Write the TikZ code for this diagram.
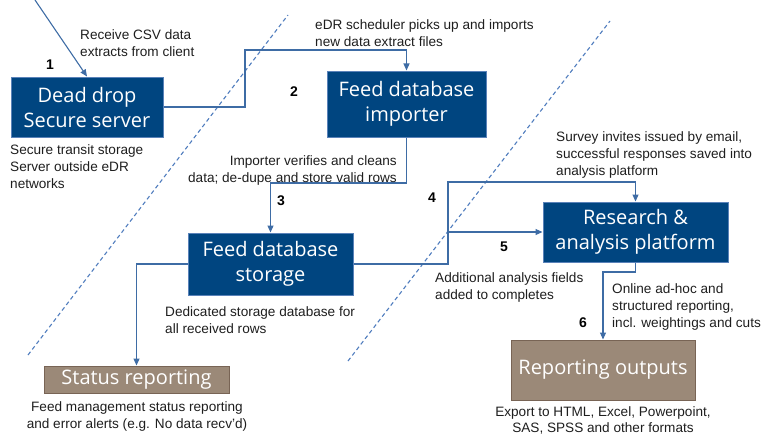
\documentclass[tikz,border=0pt]{standalone}
\usepackage{fontspec}
\setmainfont{Liberation Sans}
\newfontfamily\boxfont{Open Sans}
\usetikzlibrary{arrows.meta}
\definecolor{boxblue}{RGB}{0,69,128}
\definecolor{boxedge}{RGB}{90,130,185}
\definecolor{linkblue}{RGB}{62,108,165}
\definecolor{dashblue}{RGB}{80,125,190}
\definecolor{boxbrown}{RGB}{155,137,120}
\definecolor{brownedge}{RGB}{120,100,85}
\definecolor{txt}{RGB}{30,30,30}
\tikzset{
  bluebox/.style={draw=boxedge, line width=1pt, fill=boxblue, text=white, font=\boxfont\fontsize{20}{25}\selectfont, align=center, inner sep=0pt},
  brownbox/.style={draw=brownedge, line width=1pt, fill=boxbrown, text=white, font=\boxfont\fontsize{20}{25}\selectfont, align=center, inner sep=0pt},
  conn/.style={draw=linkblue, line width=1.1pt, -{Triangle[length=7pt,width=6pt]}},
  sep/.style={draw=dashblue, line width=1.1pt, dash pattern=on 4pt off 3pt},
  lbl/.style={text=txt, font=\fontsize{13.6}{17}\selectfont, inner sep=0pt},
  num/.style={text=black, font=\bfseries\fontsize{14}{16}\selectfont, inner sep=0pt}
}
\begin{document}
\begin{tikzpicture}[x=1pt,y=-1pt]
\useasboundingbox (0,0) rectangle (765,436);
% separators
\coordinate (a1) at (28,355); \coordinate (a2) at (288,15);
\coordinate (b1) at (348,361); \coordinate (b2) at (610,21);
\draw[sep] (a1) -- (a2);
\draw[sep] (b1) -- (b2);
% boxes
\node[bluebox, minimum width=152pt, minimum height=60pt] (dead) at (87,107) {Dead drop\\Secure server};
\node[bluebox, minimum width=159pt, minimum height=66pt] (imp) at (406.5,104) {Feed database\\importer};
\node[bluebox, minimum width=165pt, minimum height=62pt] (stor) at (270.5,264) {Feed database\\storage};
\node[bluebox, minimum width=185pt, minimum height=60pt] (res) at (635.5,232) {Research \&\\analysis platform};
\node[brownbox, minimum width=185pt, minimum height=27pt] (stat) at (136.5,379.5) {Status reporting};
\node[brownbox, minimum width=184pt, minimum height=60pt] (rep) at (603,370) {Reporting outputs};
% connectors
\coordinate (c1) at (35,0);
\coordinate (c2) at (245,50);
\coordinate (c3) at (270.5,183);
\coordinate (c4) at (448,182);
\coordinate (c5) at (448,232);
\coordinate (c6) at (603,272);
\draw[conn] (c1) -- (dead.north);
\draw[conn] (dead.east) -| (c2) -| (imp.north);
\draw[conn] (imp.south) |- (c3) -- (stor.north);
\draw[conn] (stor.east) -| (c4) -| (res.north);
\draw[conn] (c5) -- (res.west);
\draw[conn] (res.south) |- (c6) -- (rep.north);
\draw[conn] (stor.west) -| (stat.north);
% labels
\node[lbl, anchor=north west, align=left] (l1) at (80,29) {Receive CSV data\\extracts from client};
\node[lbl, anchor=north west, align=left] (l2) at (10,144) {Secure transit storage\\Server outside eDR\\networks};
\node[lbl, anchor=north west, align=left] (l3) at (315,19) {eDR scheduler picks up and imports\\new data extract files};
\node[lbl, anchor=north east, align=right] (l4) at (397,155) {Importer verifies and cleans\\data; de-dupe and store valid rows};
\node[lbl, anchor=north west, align=left] (l5) at (556,131) {Survey invites issued by email,\\successful responses saved into\\analysis platform};
\node[lbl, anchor=north west, align=left] (l6) at (435,272) {Additional analysis fields\\added to completes};
\node[lbl, anchor=north west, align=left] (l7) at (612,283) {Online ad-hoc and\\structured reporting,\\incl. weightings and cuts};
\node[lbl, anchor=north west, align=left] (l8) at (165,306) {Dedicated storage database for\\all received rows};
\node[lbl, anchor=north, align=center] (l9) at (137,401) {Feed management status reporting\\and error alerts (e.g. No data recv’d)};
\node[lbl, anchor=north, align=center, font=\fontsize{13.6}{16}\selectfont] (l10) at (603,406) {Export to HTML, Excel, Powerpoint,\\SAS, SPSS and other formats};
% numbers
\node[num] (n1) at (50,65) {1};
\node[num] (n2) at (294,92) {2};
\node[num] (n3) at (281,201) {3};
\node[num] (n4) at (432,198) {4};
\node[num] (n5) at (504,247) {5};
\node[num] (n6) at (583,323) {6};
\end{tikzpicture}
\end{document}
